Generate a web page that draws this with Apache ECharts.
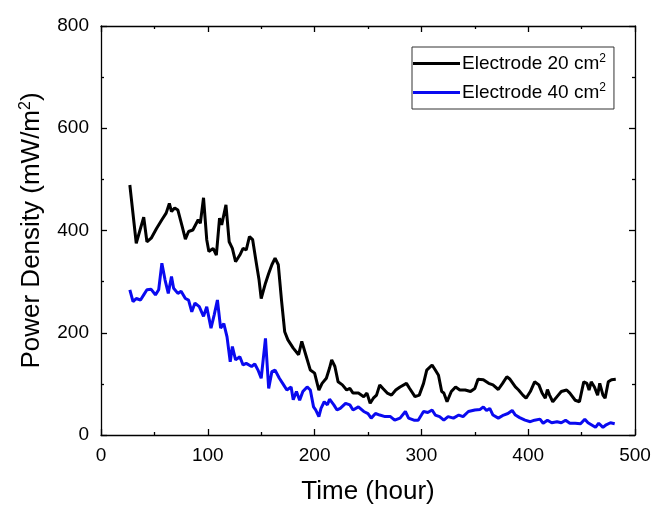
<!DOCTYPE html>
<html>
<head>
<meta charset="utf-8">
<script src="https://cdn.jsdelivr.net/npm/echarts@6/dist/echarts.min.js"></script>
<style>
html,body{margin:0;padding:0;background:#fff;}
#chart{width:654px;height:510px;}
</style>
</head>
<body>
<div id="chart"></div>
<script>
// ---- data ----
var seriesNames = ['Electrode 20 cm2', 'Electrode 40 cm2'];
var xTicks = [0, 100, 200, 300, 400, 500];
var yTicks = [0, 200, 400, 600, 800];

var time20 = [27,33,40,43,47,52,57,61,64,66,69,72,76,79,82,86,91,93,96,99,101,105,108,111,113,117,120,123,126,130,133,136,139,142,145,148,150,154,157,160,163,166,169,172,175,180,185,188,192,196,200,204,207,211,214,216,219,222,226,230,233,236,241,246,249,252,255,258,261,264,268,272,276,280,286,289,294,298,302,305,310,313,316,319,321,324,328,332,336,341,346,350,353,358,363,367,372,376,380,383,388,391,395,398,402,406,410,413,416,418,420,423,427,431,436,439,444,448,452,455,457,459,462,465,467,470,472,475,478,482];
var power20 = [489,375,426,378,385,404,421,434,453,437,444,440,408,383,398,401,421,414,464,382,359,365,352,424,411,450,378,365,339,352,365,362,388,382,342,303,267,297,316,333,346,333,264,202,186,170,157,183,155,127,121,88,101,111,131,147,134,104,98,88,91,82,82,75,82,62,72,78,98,91,82,78,88,94,101,91,75,78,101,127,137,127,117,85,82,65,85,94,88,88,85,91,109,108,101,98,89,101,114,109,94,88,78,72,85,104,98,82,72,89,78,65,75,85,88,82,68,65,104,101,88,104,94,78,101,78,72,104,108,109];

var time40 = [27,30,33,37,40,43,47,51,54,57,60,63,66,68,72,75,79,82,85,88,92,96,99,103,106,109,112,115,118,121,123,126,130,133,136,141,144,147,150,154,157,160,163,167,171,174,178,180,183,186,189,193,196,199,201,204,206,209,212,214,218,221,224,229,233,236,241,246,250,253,257,261,266,271,275,280,285,288,293,297,300,302,306,310,313,317,321,325,330,335,339,344,350,355,358,361,364,367,372,377,381,385,388,392,397,402,406,411,414,418,422,427,431,435,439,444,449,453,456,463,466,470,473,477,481];
var power40 = [284,261,267,264,274,284,285,274,284,336,303,277,310,287,277,281,267,264,241,258,251,232,251,209,235,264,209,218,192,143,173,147,153,137,140,134,139,127,111,189,91,124,127,111,98,88,94,69,85,68,85,94,88,55,49,36,52,65,59,70,59,49,52,62,59,49,55,46,42,33,42,39,36,36,29,33,46,33,29,29,39,46,44,49,39,36,29,36,33,39,36,46,49,50,55,48,52,39,33,39,42,48,39,34,29,26,29,31,23,29,24,26,24,29,23,23,22,31,24,15,23,15,20,24,22];

function zip(xs, ys){ var out=[]; for(var i=0;i<xs.length;i++){ out.push([xs[i], ys[i]]); } return out; }
// turn a trailing "2" after "cm"/"m" into a rich-text superscript
function sup(s){ return s.replace(/m2(\)?)$/, 'm{sup|2}$1'); }

var FONT = 'Liberation Sans, Arial, sans-serif';
var chart = echarts.init(document.getElementById('chart'), null, {renderer:'canvas'});

var xMin = xTicks[0], xMax = xTicks[xTicks.length-1];
var yMin = yTicks[0], yMax = yTicks[yTicks.length-1];

function axisCommon(showLabels, margin){
  return {
    axisLine:{show:true, onZero:false, lineStyle:{color:'#000', width:1.3}},
    axisTick:{show:true, inside:true, length:6, lineStyle:{color:'#000', width:1.3}},
    minorTick:{show:true, splitNumber:2, length:3, lineStyle:{color:'#000', width:1.3}},
    splitLine:{show:false},
    axisLabel:{show:showLabels, color:'#000', fontFamily:FONT, fontSize:19, margin:margin}
  };
}

var nameRich = {sup:{fontSize:16, verticalAlign:'top', lineHeight:14, fontFamily:FONT, color:'#000'}};

var option = {
  backgroundColor:'#fff',
  animation:false,
  grid:{left:101, top:26, right:19, bottom:75, containLabel:false},
  legend:{
    orient:'vertical',
    left:412, top:47,
    padding:[6,8,6,1],
    icon:'rect',
    itemWidth:47, itemHeight:3, itemGap:8,
    borderColor:'#333', borderWidth:1,
    formatter:function(n){ return sup(n); },
    textStyle:{color:'#000', fontFamily:FONT, fontSize:19, lineHeight:21, padding:[0,0,0,-3],
      rich:{sup:{fontSize:12, verticalAlign:'top', lineHeight:12, fontFamily:FONT, color:'#000'}}},
    data:seriesNames
  },
  xAxis:[
    Object.assign(axisCommon(true, 11), {
      type:'value', min:xMin, max:xMax, interval:100, position:'bottom',
      name:'Time (hour)', nameLocation:'middle', nameGap:44,
      nameTextStyle:{color:'#000', fontFamily:FONT, fontSize:26}
    }),
    Object.assign(axisCommon(false, 8), {
      type:'value', min:xMin, max:xMax, interval:100, position:'top'
    })
  ],
  yAxis:[
    Object.assign(axisCommon(true, 12), {
      type:'value', min:yMin, max:yMax, interval:200, position:'left',
      name:sup('Power Density (mW/m2)'), nameLocation:'middle', nameGap:55,
      nameTextStyle:{color:'#000', fontFamily:FONT, fontSize:26, lineHeight:28, rich:nameRich}
    }),
    Object.assign(axisCommon(false, 8), {
      type:'value', min:yMin, max:yMax, interval:200, position:'right'
    })
  ],
  series:[
    {name:seriesNames[0], type:'line', data:zip(time20, power20), showSymbol:false, symbol:'none',
     lineStyle:{color:'#000000', width:3}, itemStyle:{color:'#000000'}, z:3},
    {name:seriesNames[1], type:'line', data:zip(time40, power40), showSymbol:false, symbol:'none',
     lineStyle:{color:'#0a0af0', width:3}, itemStyle:{color:'#0a0af0'}, z:4}
  ]
};
chart.setOption(option);
</script>
</body>
</html>
